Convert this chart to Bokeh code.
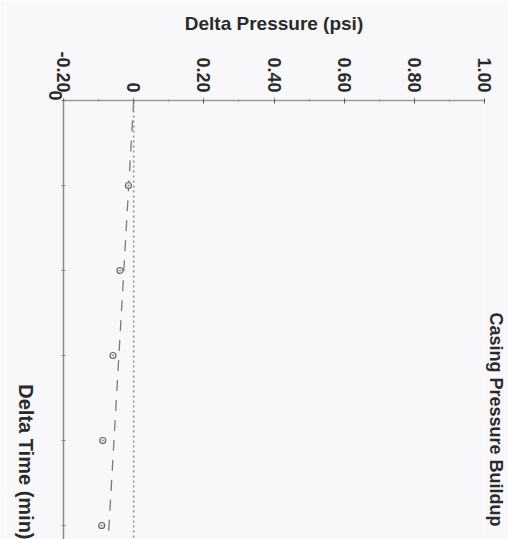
import math
from bokeh.plotting import figure
from bokeh.models import Range1d, FixedTicker, CustomJSTickFormatter, Span, Title
from bokeh.embed import file_html
from bokeh.resources import INLINE

# ---- data ----
delta_time = [1, 2, 3, 4, 5]
delta_pressure = [-0.015, -0.039, -0.059, -0.088, -0.091]
trend_time = [0.0, 5.2]
trend_pressure = [0.0, -0.073]
zero_pressure = 0.0

pressure_ticks = [-0.2, 0.0, 0.2, 0.4, 0.6, 0.8, 1.0]
pressure_tick_labels = ["-0.20", "0", "0.20", "0.40", "0.60", "0.80", "1.00"]
pressure_minor_ticks = [-0.1, 0.1, 0.3, 0.5, 0.7, 0.9]
time_ticks = [0]
time_tick_labels = ["0"]
time_minor_ticks = [1, 2, 3, 4, 5]

chart_title = "Casing Pressure Buildup"
x_title = "Delta Pressure (psi)"
y_title = "Delta Time (min)"

FONT = "Liberation Sans"
TXT = "#2a2a2a"
BG = "#f8f8fa"

p = figure(width=508, height=539,
           x_range=Range1d(-0.2, 1.0), y_range=Range1d(5.165, 0),
           x_axis_location="above", y_axis_location="left",
           min_border_left=62, min_border_top=100, min_border_right=20, min_border_bottom=0,
           output_backend="svg", toolbar_location=None,
           background_fill_color=BG, border_fill_color=BG, outline_line_color=None)
p.grid.visible = False

fmt_code = """
let best = 0; let bd = 1e9;
for (let i = 0; i < tv.length; i++) { const d = Math.abs(tv[i] - tick); if (d < bd) { bd = d; best = i; } }
return lv[best];
"""

xa = p.xaxis[0]
xa.ticker = FixedTicker(ticks=pressure_ticks, minor_ticks=pressure_minor_ticks)
xa.formatter = CustomJSTickFormatter(args=dict(tv=pressure_ticks, lv=pressure_tick_labels), code=fmt_code)
xa.major_label_orientation = -math.pi / 2
xa.major_label_text_font = FONT
xa.major_label_text_font_style = "bold"
xa.major_label_text_font_size = "18px"
xa.major_label_text_color = TXT
xa.major_label_standoff = 6
xa.axis_label = x_title
xa.axis_label_text_font = FONT
xa.axis_label_text_font_style = "bold"
xa.axis_label_text_font_size = "19px"
xa.axis_label_text_color = TXT
xa.axis_label_standoff = 14
xa.axis_line_color = "#9a9a9a"
xa.axis_line_width = 1.5
xa.major_tick_line_color = "#555555"
xa.major_tick_in = 3
xa.major_tick_out = 2
xa.minor_tick_line_color = "#888888"
xa.minor_tick_in = 1
xa.minor_tick_out = 1

ya = p.yaxis[0]
ya.ticker = FixedTicker(ticks=time_ticks, minor_ticks=time_minor_ticks)
ya.formatter = CustomJSTickFormatter(args=dict(tv=time_ticks, lv=time_tick_labels), code=fmt_code)
ya.major_label_orientation = -math.pi / 2
ya.major_label_text_font = FONT
ya.major_label_text_font_style = "bold"
ya.major_label_text_font_size = "18px"
ya.major_label_text_color = TXT
ya.major_label_standoff = 6
ya.axis_line_color = "#8a8a8a"
ya.axis_line_width = 1.5
ya.major_tick_line_color = "#666666"
ya.major_tick_in = 2
ya.major_tick_out = 2
ya.minor_tick_line_color = "#888888"
ya.minor_tick_in = 2
ya.minor_tick_out = 2
ya.axis_label = y_title
ya.axis_label_text_font = FONT
ya.axis_label_text_font_style = "bold"
ya.axis_label_text_font_size = "20px"
ya.axis_label_text_color = TXT
ya.axis_label_standoff = 14
props = ya.properties()
if "axis_label_orientation" in props:
    ya.axis_label_orientation = -math.pi / 2
if "axis_label_align" in props:
    ya.axis_label_align = "end"

# zero reference (dotted)
p.add_layout(Span(location=zero_pressure, dimension="height", line_color="#8c8c8c",
                  line_width=1.5, line_dash="2 3"))

# trend line (dashed)
p.line(trend_pressure, trend_time, line_color="#7a7a7a", line_width=1.3, line_dash="11 9")

# measured points
p.scatter(delta_pressure, delta_time, marker="circle_dot", size=6,
          line_color="#6a6a6a", fill_color="#e8e8e8", line_width=1.2)

# right-hand title (reads top to bottom)
p.add_layout(Title(text=chart_title, align="left", offset=212, standoff=2,
                   text_font=FONT, text_font_style="bold", text_font_size="18px",
                   text_color=TXT), "right")

open("out.html", "w").write(file_html(p, INLINE))
